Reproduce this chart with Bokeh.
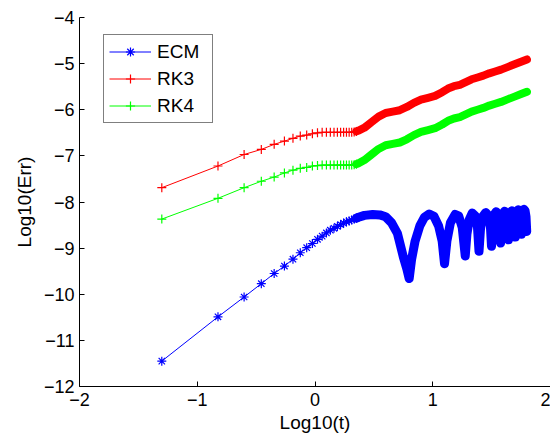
import numpy as np
from bokeh.plotting import figure
from bokeh.models import Legend, LegendItem, Range1d, FixedTicker
from bokeh.embed import file_html
from bokeh.resources import INLINE

# ---- data (log10 scale) ----
# sampled time points where individual markers are distinguishable
t_sparse = [0.05, 0.15, 0.25, 0.35, 0.45, 0.55, 0.65, 0.75, 0.85, 0.95, 1.05, 1.15,
            1.25, 1.35, 1.45, 1.55, 1.65, 1.75, 1.85, 1.95, 2.05, 2.15, 2.25]
ecm_sparse = [-11.45, -10.49, -10.06, -9.77, -9.55, -9.39, -9.24, -9.10, -8.99, -8.90,
              -8.81, -8.74, -8.67, -8.61, -8.57, -8.53, -8.49, -8.46, -8.43, -8.41,
              -8.39, -8.37, -8.35]
rk3_sparse = [-7.69, -7.22, -6.97, -6.86, -6.75, -6.68, -6.62, -6.57, -6.55, -6.52,
              -6.50, -6.49, -6.49, -6.49, -6.49, -6.49, -6.49, -6.49, -6.49, -6.49,
              -6.49, -6.48, -6.47]
rk4_sparse = [-8.37, -7.92, -7.69, -7.55, -7.46, -7.37, -7.31, -7.27, -7.25, -7.22,
              -7.21, -7.20, -7.20, -7.20, -7.20, -7.20, -7.20, -7.20, -7.20, -7.20,
              -7.20, -7.19, -7.18]

# dense part (markers merge into a band): centreline read along log10(t)
rk_dense_logt = [0.37, 0.42, 0.48, 0.54, 0.60, 0.66, 0.72, 0.78, 0.84, 0.90, 0.96, 1.02,
                 1.08, 1.13, 1.18, 1.23, 1.28, 1.33, 1.38, 1.43, 1.48, 1.53, 1.58, 1.64,
                 1.70, 1.75, 1.80]
rk3_dense = [-6.45, -6.39, -6.27, -6.15, -6.07, -6.04, -6.01, -5.94, -5.85, -5.78, -5.74,
             -5.70, -5.62, -5.54, -5.49, -5.46, -5.40, -5.34, -5.30, -5.26, -5.21, -5.17,
             -5.13, -5.07, -5.01, -4.96, -4.91]
rk4_dense = [-7.16, -7.09, -6.97, -6.85, -6.77, -6.74, -6.71, -6.64, -6.55, -6.48, -6.44,
             -6.40, -6.32, -6.24, -6.19, -6.16, -6.10, -6.04, -6.00, -5.96, -5.91, -5.87,
             -5.83, -5.77, -5.71, -5.66, -5.61]

ecm_dense_logt = [0.37, 0.42, 0.49, 0.55, 0.60, 0.65, 0.70, 0.75, 0.78, 0.80,
                  0.82, 0.85, 0.89, 0.93, 0.97, 1.01, 1.05, 1.08, 1.10,
                  1.12, 1.15, 1.19, 1.22, 1.25, 1.276,
                  1.29, 1.31, 1.335, 1.36, 1.38, 1.393,
                  1.405, 1.42, 1.45, 1.475, 1.49, 1.499,
                  1.51, 1.522, 1.538, 1.555, 1.568, 1.576,
                  1.585, 1.597, 1.61, 1.624, 1.636, 1.643,
                  1.651, 1.661, 1.672, 1.684, 1.694, 1.701,
                  1.708, 1.717, 1.727, 1.737, 1.745, 1.752,
                  1.758, 1.766, 1.775, 1.784, 1.792, 1.798]
ecm_dense = [-8.33, -8.29, -8.27, -8.28, -8.32, -8.45, -8.68, -9.19, -9.45, -9.66,
             -9.25, -8.85, -8.52, -8.33, -8.26, -8.31, -8.52, -8.85, -9.34,
             -8.85, -8.45, -8.27, -8.30, -8.55, -9.17,
             -8.70, -8.38, -8.24, -8.30, -8.55, -9.07,
             -8.60, -8.33, -8.23, -8.30, -8.55, -8.96,
             -8.45, -8.27, -8.21, -8.27, -8.45, -8.89,
             -8.40, -8.25, -8.20, -8.25, -8.40, -8.82,
             -8.38, -8.24, -8.19, -8.23, -8.37, -8.76,
             -8.36, -8.22, -8.17, -8.21, -8.35, -8.70,
             -8.33, -8.20, -8.16, -8.19, -8.32, -8.64]

x_ticks = [-2, -1, 0, 1, 2]
y_ticks = [-12, -11, -10, -9, -8, -7, -6, -5, -4]

FONT = "Liberation Sans"

p = figure(width=550, height=437, output_backend="svg", toolbar_location=None,
           x_range=Range1d(-2, 2), y_range=Range1d(-12, -4),
           min_border_left=79, min_border_right=0, min_border_top=17, min_border_bottom=51)
p.outline_line_color = None
p.grid.visible = False
p.background_fill_color = "white"
p.border_fill_color = "white"

p.xaxis.ticker = FixedTicker(ticks=x_ticks)
p.yaxis.ticker = FixedTicker(ticks=y_ticks)
p.xaxis.major_label_overrides = {v: (str(v).replace("-", "\u2212")) for v in x_ticks}
p.yaxis.major_label_overrides = {v: (str(v).replace("-", "\u2212")) for v in y_ticks}
for ax in (p.xaxis[0], p.yaxis[0]):
    ax.axis_line_color = "black"
    ax.major_tick_line_color = "black"
    ax.major_tick_in = 5
    ax.major_tick_out = 0
    ax.minor_tick_line_color = None
    ax.major_label_text_font = FONT
    ax.major_label_text_font_size = "18px"
    ax.major_label_text_color = "black"
    ax.axis_label_text_font = FONT
    ax.axis_label_text_font_size = "19px"
    ax.axis_label_text_font_style = "normal"
    ax.axis_label_text_color = "black"
p.xaxis.axis_label = "Log10(t)"
p.yaxis.axis_label = "Log10(Err)"
p.xaxis.major_label_standoff = 6
p.xaxis.axis_label_standoff = 3
p.yaxis.major_label_standoff = 5
p.yaxis.axis_label_standoff = 6

lt_sparse = np.log10(np.array(t_sparse))

series = [
    ("ECM", "#0000ff", "asterisk", ecm_sparse, ecm_dense_logt, ecm_dense, 9),
    ("RK3", "#ff0000", "cross", rk3_sparse, rk_dense_logt, rk3_dense, 8),
    ("RK4", "#00ff00", "cross", rk4_sparse, rk_dense_logt, rk4_dense, 8),
]
items = []
for name, col, mk, ys, dx, dy, bw in series:
    bx = np.concatenate([[lt_sparse[-1]], dx])
    by = np.concatenate([[ys[-1]], dy])
    p.line(bx, by, line_color=col, line_width=bw, line_join="round", line_cap="round")
    ln = p.line(np.concatenate([lt_sparse, dx]), np.concatenate([ys, dy]),
                line_color=col, line_width=1)
    sc = p.scatter(lt_sparse, ys, marker=mk, size=9, line_color=col, line_width=1.2)
    items.append(LegendItem(label=name, renderers=[ln, sc]))

legend = Legend(items=items, location=(24, 263))
legend.border_line_color = "black"
legend.border_line_width = 1
legend.background_fill_color = "white"
legend.background_fill_alpha = 1
legend.padding = 5
legend.spacing = 4
legend.margin = 0
legend.glyph_width = 42
legend.glyph_height = 23
legend.label_height = 23
legend.label_width = 50
legend.label_standoff = 6
legend.label_text_font = FONT
legend.label_text_font_size = "19px"
legend.label_text_color = "black"
legend.label_text_baseline = "middle"
p.add_layout(legend)

open("out.html", "w").write(file_html(p, INLINE))
